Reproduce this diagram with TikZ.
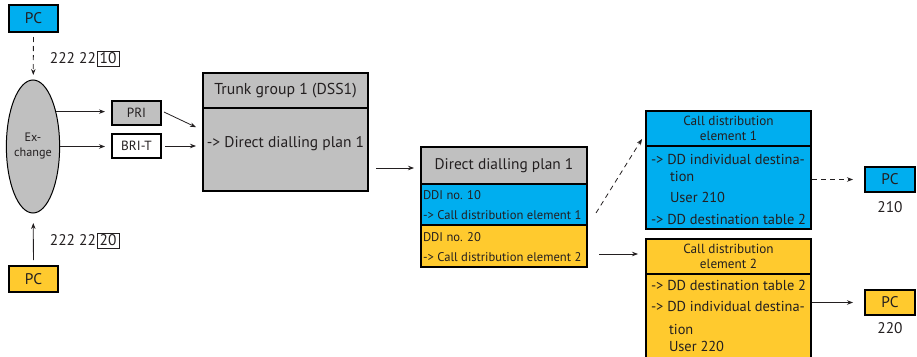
\documentclass[tikz,border=0pt]{standalone}
\usepackage{fontspec}
\setmainfont{PT Sans}
\usetikzlibrary{arrows.meta,calc,shapes.geometric}
\definecolor{cblue}{HTML}{00AEEF}
\definecolor{cyel}{HTML}{FFCA2E}
\definecolor{cgray}{HTML}{C0C0C0}
\definecolor{ctext}{HTML}{231F20}
\begin{document}
\begin{tikzpicture}[x=1pt,y=-1pt,
  box/.style={draw=black,line width=1.3pt,inner sep=0pt,outer sep=0pt,text=ctext,font=\fontsize{15.4}{17}\selectfont},
  txt/.style={inner sep=0pt,outer sep=0pt,text=ctext,font=\fontsize{15.4}{17}\selectfont},
  btxt/.style={inner sep=0pt,outer sep=0pt,text=ctext,font=\fontsize{14.4}{17}\selectfont},
  stxt/.style={inner sep=0pt,outer sep=0pt,text=ctext,font=\fontsize{12.6}{15}\selectfont},
  arr/.style={-{Stealth[length=6pt,width=4.5pt]},line width=0.8pt,draw=ctext},
  dsh/.style={dash pattern=on 5pt off 4pt}]
\useasboundingbox (0,0) rectangle (917,356);
% left side
\node[box,fill=cblue,minimum width=49,minimum height=27] (pctop) at (33.5,18.5) {PC};
\node[box,fill=cyel,minimum width=49,minimum height=26] (pcbot) at (33.5,279) {PC};
\node[ellipse,draw=black,line width=1pt,fill=cgray,minimum width=52,minimum height=133,inner sep=0pt,outer sep=0pt,
  align=center,text=ctext,font=\fontsize{12.2}{15}\selectfont] (ell) at (33,146.5) {Ex-\\change};
\node[txt,anchor=east] (num1) at (96,58.5) {222 22};
\node[draw=ctext,line width=0.6pt,inner sep=0pt,outer sep=0pt,minimum width=22,minimum height=15,text=ctext,font=\fontsize{15.4}{17}\selectfont] (box1) at (108,58.5) {10};
\node[txt,anchor=east] (num2) at (96,240.5) {222 22};
\node[draw=ctext,line width=0.6pt,inner sep=0pt,outer sep=0pt,minimum width=22,minimum height=15,text=ctext,font=\fontsize{15.4}{17}\selectfont] (box2) at (108,240.5) {20};
\node[box,fill=cgray,minimum width=49,minimum height=24,font=\fontsize{13.3}{15}\selectfont] (pri) at (136.5,113) {PRI};
\node[box,fill=white,minimum width=49,minimum height=24,font=\fontsize{13.3}{15}\selectfont] (bri) at (136.5,146) {BRI-T};
% trunk group
\node[box,fill=cgray,minimum width=165,minimum height=35,font=\fontsize{15.8}{17}\selectfont] (trunkhead) at (285.5,90.5) {Trunk group 1 (DSS1)};
\node[box,fill=cgray,minimum width=165,minimum height=83] (trunkbody) at (285.5,149.5) {};
\node[txt,font=\fontsize{15.5}{17}\selectfont] (trunktext) at (285.5,144) {-> Direct dialling plan 1};
% direct dialling plan
\node[box,fill=cgray,minimum width=166,minimum height=37] (ddphead) at (504,165.5) {Direct dialling plan 1};
\node[box,fill=cblue,minimum width=166,minimum height=41] (ddpblue) at (504,204.5) {};
\node[box,fill=cyel,minimum width=166,minimum height=42] (ddpyel) at (504,246) {};
\node[stxt,anchor=west] (d1) at (423,195) {DDI no. 10};
\node[stxt,anchor=west] (d2) at (423,215) {-> Call distribution element 1};
\node[stxt,anchor=west] (d3) at (423,237) {DDI no. 20};
\node[stxt,anchor=west] (d4) at (423,257) {-> Call distribution element 2};
% call distribution element 1
\node[box,fill=cblue,minimum width=165,minimum height=35,align=center,font=\fontsize{13.2}{14.5}\selectfont] (cde1title) at (728.5,128.5) {Call distribution\\element 1};
\node[box,fill=cblue,minimum width=165,minimum height=83] (cde1body) at (728.5,187.5) {};
\node[btxt,anchor=west] (e1a) at (651,159) {-> DD individual destina-};
\node[btxt,anchor=west] (e1b) at (670,176) {tion};
\node[btxt,anchor=west] (e1c) at (670,197) {User 210};
\node[btxt,anchor=west] (e1d) at (651,219) {-> DD destination table 2};
% call distribution element 2
\node[box,fill=cyel,minimum width=165,minimum height=35,align=center,font=\fontsize{13.2}{14.5}\selectfont] (cde2title) at (728.5,256.5) {Call distribution\\element 2};
\node[box,fill=cyel,minimum width=165,minimum height=96] (cde2body) at (728.5,322) {};
\node[btxt,anchor=west] (e2a) at (651,285) {-> DD destination table 2};
\node[btxt,anchor=west] (e2b) at (651,306) {-> DD individual destina-};
\node[btxt,anchor=west] (e2c) at (669,329) {tion};
\node[btxt,anchor=west] (e2d) at (669,346) {User 220};
% target PCs
\node[box,fill=cblue,minimum width=50,minimum height=25] (pc210) at (890,179.5) {PC};
\node[txt] (l210) at (890,207) {210};
\node[box,fill=cyel,minimum width=50,minimum height=25] (pc220) at (890,302.5) {PC};
\node[txt] (l220) at (890,328) {220};
% connectors
\draw[arr,dsh,shorten <=5pt,shorten >=5pt] (pctop) -- (ell);
\draw[arr,shorten <=6pt,shorten >=10pt] (pcbot) -- (ell);
\draw[arr,shorten >=7pt] (ell.57) -- (ell.57 -| pri.west);
\draw[arr,shorten >=7pt] (ell.east) -- (ell.east -| bri.west);
\draw[arr,shorten <=3.3pt,shorten >=7.7pt] ($(pri.east)+(0,-2.4)$) -- ($(trunkbody.west)+(0,-19)$);
\draw[arr,shorten <=4pt,shorten >=7pt] (bri.east) -- (bri.east -| trunkbody.west);
\coordinate (t1) at ($(ddphead.west)+(0,2.5)$);
\draw[arr,shorten <=8pt,shorten >=7pt] (t1 -| trunkbody.east) -- (t1);
\draw[arr,dsh] ($(ddpblue.east)+(9,8.5)$) -- ($(cde1title.south west)+(-4,-7)$);
\coordinate (y1) at ($(ddpyel.east)+(12,8)$);
\draw[arr,shorten >=8pt] (y1) -- (y1 -| cde2title.west);
\draw[arr,dsh,shorten <=1pt,shorten >=12pt] (pc210.west -| cde1body.east) -- (pc210.west);
\draw[arr,shorten <=1pt,shorten >=12pt] (pc220.west -| cde2body.east) -- (pc220.west);
\end{tikzpicture}
\end{document}
